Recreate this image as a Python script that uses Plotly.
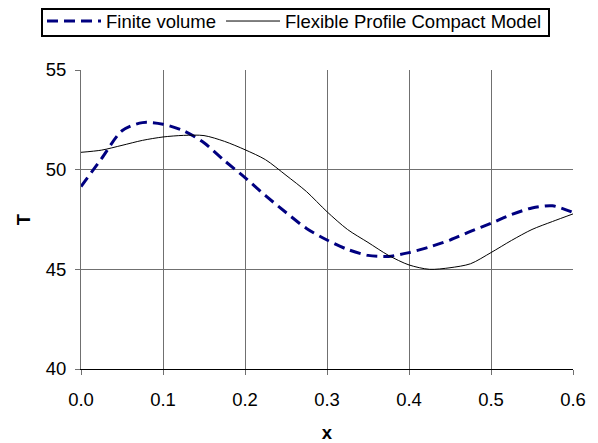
import plotly.graph_objects as go

x_vals = [0.000, 0.025, 0.050, 0.075, 0.100, 0.125, 0.150, 0.175, 0.200, 0.225,
          0.250, 0.275, 0.300, 0.325, 0.350, 0.375, 0.400, 0.425, 0.450, 0.475,
          0.500, 0.525, 0.550, 0.575, 0.600]

finite_volume = [49.15, 50.55, 51.95, 52.36, 52.28, 51.95, 51.35, 50.45, 49.60, 48.70,
                 47.85, 47.05, 46.47, 46.00, 45.70, 45.65, 45.84, 46.12, 46.47, 46.90,
                 47.31, 47.75, 48.08, 48.19, 47.85]

fpcm = [50.87, 50.98, 51.22, 51.47, 51.64, 51.72, 51.71, 51.42, 51.00, 50.50,
        49.72, 48.90, 47.89, 47.00, 46.35, 45.70, 45.22, 45.00, 45.08, 45.28,
        45.84, 46.45, 47.00, 47.40, 47.78]

x_ticks = [0.0, 0.1, 0.2, 0.3, 0.4, 0.5, 0.6]
y_ticks = [40, 45, 50, 55]

FONT = "Liberation Sans, Arial, sans-serif"
FS = 18.5

# figure is drawn inside an 8px page margin, so size/margins compensate for it
W, H = 582, 435
ML, MR, MT, MB = 73, 17, 62, 74
PW, PH = W - ML - MR, H - MT - MB

def px_to_paper_x(px):
    return (px - ML) / PW

def px_to_paper_y(py):
    return 1 + (MT - py) / PH

fig = go.Figure()
fig.add_trace(go.Scatter(
    x=x_vals, y=finite_volume, mode="lines", name="Finite volume",
    line=dict(color="#000080", width=3, dash="11px,6px", shape="spline", smoothing=0.8),
))
fig.add_trace(go.Scatter(
    x=x_vals, y=fpcm, mode="lines", name="Flexible Profile Compact Model",
    line=dict(color="#000000", width=1, shape="spline", smoothing=0.8),
))

# legend frame
fig.add_shape(
    type="rect", xref="paper", yref="paper",
    x0=px_to_paper_x(34), x1=px_to_paper_x(541),
    y0=px_to_paper_y(28), y1=px_to_paper_y(1),
    line=dict(color="black", width=2), fillcolor="rgba(0,0,0,0)", layer="above",
)

fig.update_layout(
    width=W, height=H,
    margin=dict(l=ML, r=MR, t=MT, b=MB, autoexpand=False),
    paper_bgcolor="white", plot_bgcolor="white",
    font=dict(family=FONT, size=FS, color="black"),
    showlegend=True,
    legend=dict(
        orientation="h", xref="paper", yref="paper",
        x=px_to_paper_x(34), xanchor="left", y=px_to_paper_y(13.5), yanchor="middle",
        borderwidth=0, bgcolor="rgba(0,0,0,0)",
        font=dict(family=FONT, size=FS, color="black"),
        tracegroupgap=0, itemwidth=54,
    ),
    xaxis=dict(
        range=[0, 0.6], tickvals=x_ticks, ticktext=[f"{v:.1f}" for v in x_ticks],
        showgrid=True, gridcolor="#707070", gridwidth=1,
        showline=True, linecolor="black", linewidth=1,
        ticks="outside", ticklen=5, tickcolor="#707070",
        zeroline=False, automargin=False, ticklabelstandoff=9,
        title=dict(text="<b>x</b>", font=dict(family=FONT, size=FS), standoff=23),
        tickfont=dict(family=FONT, size=FS),
    ),
    yaxis=dict(
        range=[40, 55], tickvals=y_ticks,
        showgrid=True, gridcolor="#707070", gridwidth=1,
        showline=True, linecolor="#707070", linewidth=1,
        ticks="outside", ticklen=5, tickcolor="#707070",
        zeroline=False, automargin=False, ticklabelstandoff=5,
        title=dict(text="<b>T</b>", font=dict(family=FONT, size=FS), standoff=10),
        tickfont=dict(family=FONT, size=FS),
    ),
)

fig.write_html("out.html")
